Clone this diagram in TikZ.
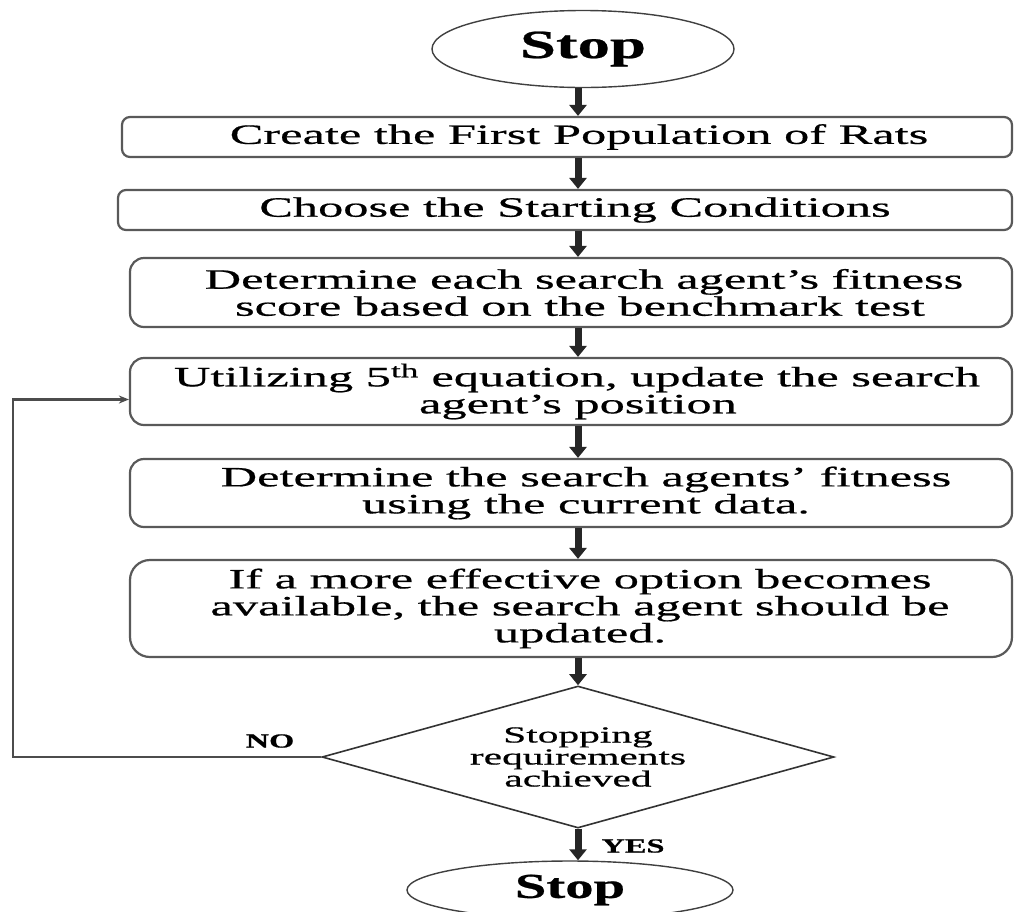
\documentclass[tikz,border=0pt]{standalone}
\usepackage{fontspec}
\setmainfont{Liberation Serif}[FakeStretch=1.8, FakeBold=0.6,
  BoldFeatures={FakeStretch=1.62, FakeBold=0.6}]
\usetikzlibrary{shapes.geometric,arrows.meta,calc}

\tikzset{
  box/.style={draw=black!65, line width=2.2pt, minimum width=882pt, align=center,
    inner sep=0pt, font=\fontsize{28}{27}\selectfont},
  term/.style={ellipse, draw=black!75, line width=1.4pt, inner sep=0pt},
  decision/.style={diamond, draw=black!80, line width=1.6pt, inner sep=0pt,
    align=center, font=\fontsize{23}{22}\selectfont},
  flow/.style={line width=7pt, draw=black!85, -{Triangle[width=17pt,length=11pt]}},
  loopback/.style={line width=2.6pt, draw=black!70, -{Stealth[length=10pt,width=8pt]}},
  tag/.style={font=\fontsize{20}{20}\selectfont\bfseries}
}

\begin{document}
\begin{tikzpicture}[x=1pt,y=-1pt]
  \fill[white] (0,0) rectangle (1016,911);
  \useasboundingbox (0,0) rectangle (1016,911);

  % terminals
  \node[term, minimum width=302pt, minimum height=77pt,
        font=\fontsize{40}{40}\selectfont\bfseries] (start) at (583,49) {Stop};
  \node[term, minimum width=326pt, minimum height=58pt,
        font=\fontsize{35}{35}\selectfont\bfseries] (finish) at (570,890) {Stop};

  % process steps
  \node[box, rounded corners=8pt, minimum width=890pt, minimum height=40pt] (b1) at (567,137)
    {\hspace*{24pt}Create the First Population of Rats};
  \node[box, rounded corners=8pt, minimum width=894pt, minimum height=40pt] (b2) at (565,210)
    {\hspace*{20pt}Choose the Starting Conditions};
  \node[box, rounded corners=14pt, minimum height=69pt] (b3) at (571,292.5)
    {\hspace*{26pt}Determine each search agent's fitness\\
     \hspace*{18pt}score based on the benchmark test};
  \node[box, rounded corners=14pt, minimum height=67pt] (b4) at (571,391.5)
    {\hspace*{12pt}Utilizing 5\textsuperscript{th} equation, update the search\\
     \hspace*{14pt}agent's position};
  \node[box, rounded corners=14pt, minimum height=68pt] (b5) at (571,493)
    {\hspace*{30pt}Determine the search agents' fitness\\
     \hspace*{30pt}using the current data.};
  \node[box, rounded corners=20pt, minimum height=97pt] (b6) at (571,608.5)
    {\hspace*{18pt}If a more effective option becomes\\
     \hspace*{18pt}available, the search agent should be\\
     \hspace*{18pt}updated.};

  % decision
  \node[decision, minimum width=512pt, minimum height=142pt, aspect=3.6] (dec) at (578,757)
    {Stopping\\requirements\\achieved};

  % main flow
  \draw[flow] (start.south -| dec.north) -- (b1.north -| dec.north);
  \draw[flow] (b1.south -| dec.north) -- (b2.north -| dec.north);
  \draw[flow] (b2.south -| dec.north) -- (b3.north -| dec.north);
  \draw[flow] (b3.south -| dec.north) -- (b4.north -| dec.north);
  \draw[flow] (b4.south -| dec.north) -- (b5.north -| dec.north);
  \draw[flow] (b5.south -| dec.north) -- (b6.north -| dec.north);
  \draw[flow] (b6.south -| dec.north) -- (dec.north);
  \draw[flow] (dec.south) -- (finish.north -| dec.south);

  % loop back when the criterion is not met
  \coordinate (corner) at (13,757);
  \draw[loopback] (dec.west) -- (corner) |- ($(b4.west)+(0,8)$);

  \node[tag] (no) at (270,741) {NO};
  \node[tag] (yes) at (633,846) {YES};
\end{tikzpicture}
\end{document}
